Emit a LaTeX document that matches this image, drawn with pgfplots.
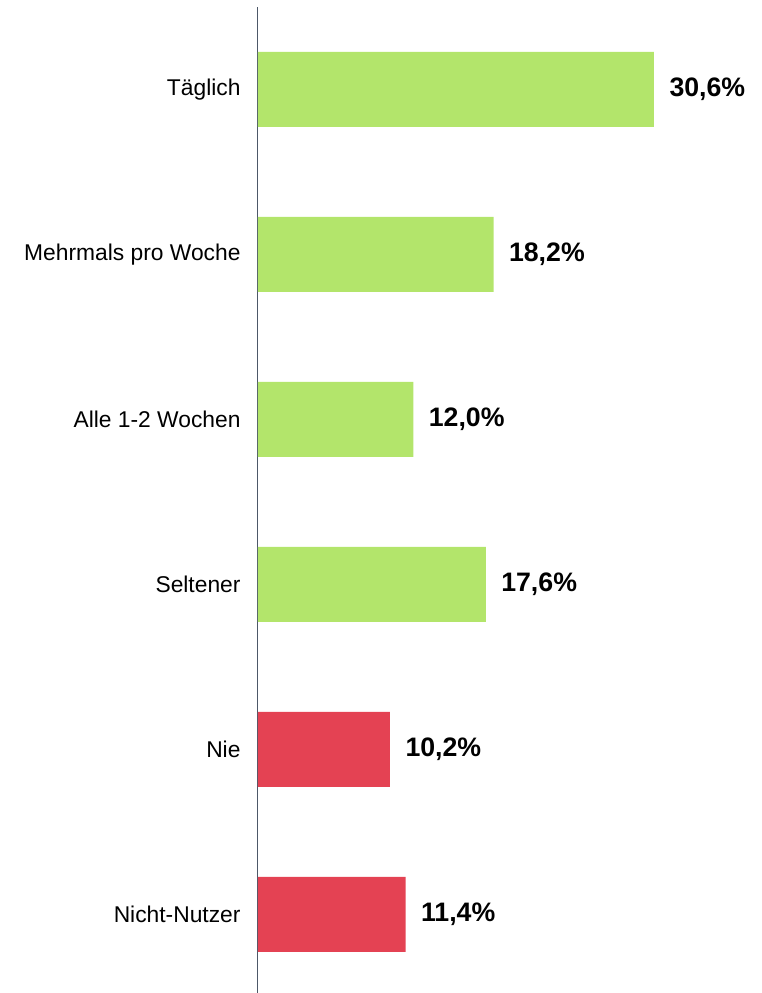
\documentclass[border=0pt]{standalone}
\usepackage{fontspec}
\setmainfont{Liberation Sans}
\usepackage{pgfplots}
\usepackage{pgfplotstable}
\pgfplotsset{compat=1.18}
\definecolor{bargreen}{HTML}{B3E56B}
\definecolor{barred}{HTML}{E44253}
\definecolor{axisgray}{HTML}{4D5868}
\pgfplotstableread[col sep=comma]{
x,y,lab
30.6,0,{30,6\%}
18.2,1,{18,2\%}
12.0,2,{12,0\%}
17.6,3,{17,6\%}
}\greendata
\pgfplotstableread[col sep=comma]{
x,y,lab
10.2,4,{10,2\%}
11.4,5,{11,4\%}
}\reddata
\begin{document}
\begin{tikzpicture}
\useasboundingbox (0,0) rectangle (761pt,993pt);
\begin{axis}[
  at={(258pt,0pt)}, anchor=south west,
  scale only axis,
  width=503pt, height=986pt,
  xmin=0, xmax=38.87,
  ymin=-0.5, ymax=5.476,
  y dir=reverse,
  axis x line=none,
  axis y line*=left,
  axis line style={axisgray, line width=1pt, -},
  ytick={0,1,2,3,4,5},
  yticklabels={Täglich,Mehrmals pro Woche,Alle 1-2 Wochen,Seltener,Nie,Nicht-Nutzer},
  major tick length=0pt,
  yticklabel style={font=\fontsize{22.8}{26}\selectfont, text=black, xshift=-14pt},
  xbar, bar width=75pt, bar shift=0pt,
  clip=false,
  nodes near coords,
  point meta=explicit symbolic,
  nodes near coords style={font=\fontsize{26.7}{31}\selectfont\bfseries, text=black, anchor=west, xshift=12pt},
]
\addplot[fill=bargreen, draw=none] table[x=x, y=y, meta=lab] {\greendata};
\addplot[fill=barred, draw=none] table[x=x, y=y, meta=lab] {\reddata};
\end{axis}
\end{tikzpicture}
\end{document}
